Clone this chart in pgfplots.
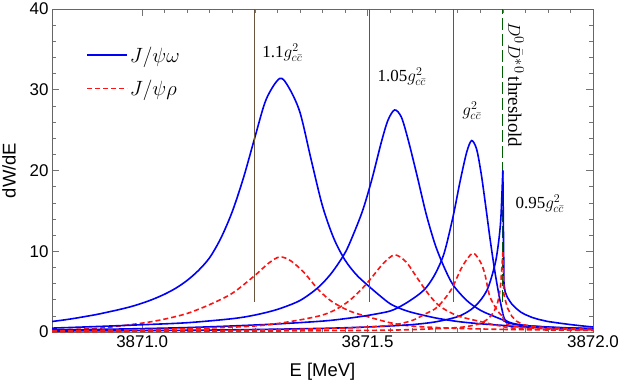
\documentclass[border=0pt]{standalone}
\usepackage{fontspec}
\setmainfont{Liberation Sans}
\newfontfamily\tms{Liberation Serif}
\usepackage{pgfplots}
\pgfplotsset{compat=1.18}
\definecolor{vline}{RGB}{105,85,62}
\definecolor{thr}{RGB}{0,95,0}
\definecolor{cblue}{RGB}{0,0,245}
\definecolor{cred}{RGB}{250,20,20}
\begin{document}
\begin{tikzpicture}
\begin{axis}[
 scale only axis, width=541bp, height=323bp,
 xmin=3870.8, xmax=3872.0, ymin=0, ymax=40,
 xtick={3871.0,3871.5,3872.0}, xticklabels={3871.0,3871.5,3872.0},
 minor x tick num=9, ytick={0,10,20,30,40}, minor y tick num=4,
 tick align=inside, major tick length=7bp, minor tick length=4bp,
 every tick/.style={black!55, line width=0.6bp},
 axis line style={black!60, line width=0.7bp},
 tick label style={font=\fontsize{17}{20}\selectfont, text=black},
 /pgf/number format/assume math mode=true,
 xlabel={E [MeV]}, ylabel={dW/dE},
 label style={font=\fontsize{18.5}{22}\selectfont},
 xlabel style={at={(axis description cs:0.5,-0.095)}, anchor=north, inner sep=0pt},
 ylabel style={at={(axis description cs:-0.0665,0.5)}, anchor=south, inner sep=0pt},
 legend style={at={(axis description cs:0.063,0.8905)}, anchor=north west, draw=none, fill=none,
   font=\fontsize{21}{24}\selectfont, row sep=12.5bp, inner sep=0pt},
 legend cell align=left,
 legend image code/.code={\draw[#1] (0bp,0bp) -- (40bp,0bp);},
 bl/.style={color=cblue, line width=1.6bp, solid, smooth, tension=0.5},
 rd/.style={color=cred, line width=1.6bp, dash pattern=on 5bp off 3bp, smooth, tension=0.5},
]
% J/psi omega, 1.1 g^2 (legend)
\addplot[bl] coordinates {(3870.800,1.30)(3870.825,1.48)(3870.850,1.69)(3870.875,1.93)(3870.900,2.18)(3870.925,2.48)(3870.950,2.79)(3870.975,3.14)(3871.000,3.57)(3871.025,4.08)(3871.050,4.69)(3871.075,5.44)(3871.100,6.40)(3871.125,7.63)(3871.150,9.23)(3871.175,11.67)(3871.200,14.93)(3871.225,19.15)(3871.250,24.1)(3871.275,28.8)(3871.305,31.4)(3871.325,30.3)(3871.350,27.2)(3871.375,21.3)(3871.400,15.6)(3871.425,11.6)(3871.450,8.9)(3871.475,7.1)(3871.500,5.8)(3871.525,4.6)(3871.550,3.5)(3871.575,2.85)(3871.600,2.4)(3871.650,1.75)(3871.700,1.3)(3871.750,1.02)(3871.800,0.82)};
\addlegendentry{$J/\psi\omega$}
% J/psi rho, 1.1 g^2 (legend)
\addplot[rd] coordinates {(3870.80,0.25)(3870.90,0.45)(3871.00,1.1)(3871.05,1.6)(3871.10,2.3)(3871.15,3.4)(3871.20,4.8)(3871.25,7.0)(3871.28,8.5)(3871.305,9.3)(3871.33,8.8)(3871.36,7.3)(3871.39,5.3)(3871.42,3.8)(3871.46,2.6)(3871.50,1.9)(3871.55,1.15)(3871.60,0.72)(3871.70,0.45)(3871.80,0.32)};
\addlegendentry{$J/\psi\rho$}

% vertical markers
\addplot[vline, line width=1bp, forget plot] coordinates {(3871.25,3.75) (3871.25,40)};
\addplot[vline, line width=1bp, forget plot] coordinates {(3871.505,3.75) (3871.505,40)};
\addplot[vline, line width=1bp, forget plot] coordinates {(3871.69,3.75) (3871.69,40)};
\addplot[thr, line width=1.2bp, dash pattern=on 12bp off 4bp, forget plot] coordinates {(3871.80,3.75) (3871.80,40)};

\addplot[bl, forget plot] coordinates {(3871.80,0.82)(3871.82,0.72)(3871.85,0.62)(3871.90,0.52)(3871.95,0.45)(3872.00,0.4)};
% 1.05 g^2
\addplot[bl, forget plot] coordinates {(3870.80,0.48)(3870.90,0.68)(3871.00,0.9)(3871.10,1.15)(3871.20,1.65)(3871.25,2.1)(3871.30,2.8)(3871.35,3.9)(3871.39,5.5)(3871.42,7.3)(3871.45,9.8)(3871.47,12.3)(3871.49,15.2)(3871.51,19.0)(3871.53,23.4)(3871.545,26.2)(3871.56,27.5)(3871.575,26.6)(3871.59,23.8)(3871.61,19.3)(3871.63,14.6)(3871.65,10.8)(3871.67,8.0)(3871.69,5.8)(3871.72,3.9)(3871.75,2.7)(3871.78,1.95)(3871.80,1.5)};
\addplot[bl, forget plot] coordinates {(3871.80,1.5)(3871.81,1.15)(3871.84,0.85)(3871.90,0.62)(3871.95,0.5)(3872.00,0.42)};
% g^2
\addplot[bl, forget plot] coordinates {(3870.80,0.25)(3870.90,0.32)(3871.00,0.42)(3871.10,0.55)(3871.20,0.75)(3871.30,1.0)(3871.40,1.35)(3871.45,1.65)(3871.50,2.05)(3871.55,2.6)(3871.58,3.4)(3871.61,4.5)(3871.63,5.5)(3871.65,7.2)(3871.67,9.8)(3871.69,14.4)(3871.705,18.6)(3871.72,22.3)(3871.731,23.7)(3871.742,22.6)(3871.752,19.6)(3871.762,15.6)(3871.772,11.4)(3871.782,7.6)(3871.792,4.4)(3871.80,2.3)};
\addplot[bl, forget plot] coordinates {(3871.80,2.3)(3871.805,1.5)(3871.82,1.1)(3871.85,0.8)(3871.90,0.6)(3871.95,0.48)(3872.00,0.4)};
% 0.95 g^2
\addplot[bl, forget plot] coordinates {(3870.80,0.12)(3871.00,0.17)(3871.20,0.27)(3871.40,0.45)(3871.50,0.62)(3871.55,0.75)(3871.60,0.92)(3871.65,1.25)(3871.70,1.9)(3871.73,2.8)(3871.75,3.9)(3871.765,5.2)(3871.775,6.8)(3871.785,9.0)(3871.792,11.8)(3871.796,14.5)(3871.80,20.0)};
\addplot[color=cblue, line width=1.6bp, forget plot] coordinates {(3871.80,20.0)(3871.8025,6.0)(3871.805,5.0)(3871.81,4.3)(3871.815,3.85)(3871.82,3.45)(3871.83,2.9)(3871.84,2.45)(3871.85,2.15)(3871.865,1.8)(3871.88,1.55)(3871.90,1.3)(3871.925,1.1)(3871.95,0.92)(3871.975,0.76)(3872.00,0.62)};

% J/psi rho, other couplings
\addplot[rd, forget plot] coordinates {(3871.80,0.32)(3871.90,0.25)(3872.00,0.2)};
\addplot[rd, forget plot] coordinates {(3870.80,0.15)(3871.00,0.28)(3871.20,0.6)(3871.28,0.9)(3871.35,1.5)(3871.40,2.1)(3871.43,2.8)(3871.46,3.9)(3871.49,5.5)(3871.51,6.8)(3871.535,8.5)(3871.56,9.55)(3871.585,8.7)(3871.61,6.7)(3871.635,4.7)(3871.66,3.2)(3871.70,2.0)(3871.75,1.3)(3871.78,0.9)(3871.80,0.7)};
\addplot[rd, forget plot] coordinates {(3871.80,0.7)(3871.81,0.55)(3871.85,0.4)(3871.90,0.32)(3872.00,0.22)};
\addplot[rd, forget plot] coordinates {(3870.80,0.08)(3871.00,0.12)(3871.20,0.2)(3871.40,0.4)(3871.50,0.62)(3871.56,0.9)(3871.60,1.45)(3871.63,2.3)(3871.655,3.1)(3871.685,5.2)(3871.71,8.1)(3871.733,9.75)(3871.75,8.7)(3871.76,7.2)(3871.77,4.6)(3871.78,3.4)(3871.79,2.5)(3871.80,1.9)};
\addplot[rd, forget plot] coordinates {(3871.80,1.9)(3871.805,1.1)(3871.82,0.75)(3871.85,0.55)(3871.90,0.38)(3872.00,0.25)};
\addplot[rd, forget plot] coordinates {(3870.80,0.05)(3871.20,0.1)(3871.50,0.2)(3871.60,0.3)(3871.70,0.55)(3871.74,0.9)(3871.76,1.35)(3871.775,2.1)(3871.785,3.1)(3871.79,4.0)(3871.795,5.8)(3871.80,9.9)};
\addplot[color=cred, line width=1.6bp, dash pattern=on 5bp off 3bp, forget plot] coordinates {(3871.80,9.9)(3871.8025,4.6)(3871.81,3.0)(3871.82,1.95)(3871.83,1.35)(3871.845,0.9)(3871.87,0.65)(3871.90,0.52)(3871.95,0.4)(3872.00,0.33)};

% annotations
\node[font=\fontsize{17}{20}\selectfont] at (axis cs:3871.311,34.6) {{\tms 1.1}$g^2_{c\bar c}$};
\node[font=\fontsize{17}{20}\selectfont] at (axis cs:3871.576,31.6) {{\tms 1.05}$g^2_{c\bar c}$};
\node[font=\fontsize{17}{20}\selectfont] at (axis cs:3871.731,27.4) {$g^2_{c\bar c}$};
\node[font=\fontsize{17}{20}\selectfont] at (axis cs:3871.882,15.9) {{\tms 0.95}$g^2_{c\bar c}$};
\node[font=\fontsize{19}{22}\selectfont, rotate=-90] at (axis cs:3871.829,30.6) {$D^0\bar{D}^{*0}$\,{\tms threshold}};
\end{axis}
\pgfresetboundingbox
\path ([shift={(-52bp,-50bp)}]current axis.south west) rectangle ([shift={(28bp,9bp)}]current axis.north east);
\end{tikzpicture}
\end{document}
